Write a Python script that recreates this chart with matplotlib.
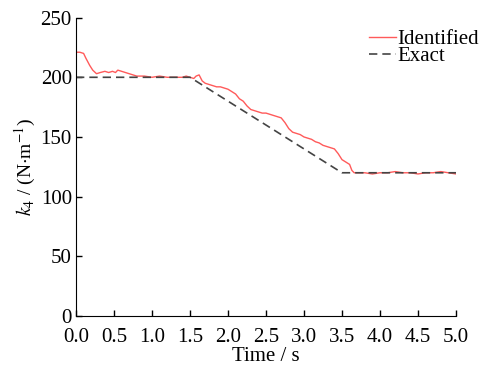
import matplotlib
matplotlib.use('Agg')
import matplotlib.pyplot as plt

# identified stiffness k4
time_id = [0, 0.05, 0.10, 0.13, 0.18, 0.22, 0.27, 0.32, 0.38, 0.43,
           0.48, 0.52, 0.55, 0.6, 0.65, 0.7, 0.75, 0.8, 0.9, 1.0,
           1.1, 1.2, 1.3, 1.4, 1.45, 1.5, 1.55, 1.58, 1.62, 1.66,
           1.7, 1.75, 1.8, 1.85, 1.9, 1.95, 2.0, 2.05, 2.1, 2.15,
           2.2, 2.25, 2.3, 2.35, 2.4, 2.45, 2.5, 2.55, 2.6, 2.65,
           2.7, 2.75, 2.8, 2.85, 2.9, 2.95, 3.0, 3.05, 3.1, 3.15,
           3.2, 3.25, 3.3, 3.35, 3.4, 3.45, 3.5, 3.55, 3.6, 3.63,
           3.66, 3.7, 3.8, 3.9, 4.0, 4.1, 4.2, 4.3, 4.4, 4.5,
           4.6, 4.7, 4.8, 4.9, 5.0]
k4_id = [221, 221, 220, 216, 210, 206, 203, 204, 205, 204,
         205, 204, 206, 205, 204, 203, 202, 201, 201, 200,
         201, 200, 200, 200, 201, 200, 199, 201, 202, 197,
         195, 194, 193, 192, 192, 191, 190, 188, 186, 182,
         180, 176, 173, 172, 171, 170, 170, 169, 168, 167,
         166, 162, 157, 154, 153, 152, 150, 149, 148, 146,
         145, 143, 142, 141, 140, 136, 131, 129, 127, 122,
         120, 120, 120, 119, 120, 120, 121, 120, 120, 119,
         120, 120, 121, 120, 119]

# exact stiffness
time_ex = [0, 1.5, 3.5, 5.0]
k4_ex = [200, 200, 120, 120]

xtick_labels = ['0.0', '0.5', '1.0', '1.5', '2.0', '2.5', '3.0', '3.5', '4.0', '4.5', '5.0']

plt.rcParams['font.family'] = ['Liberation Serif', 'DejaVu Serif']
plt.rcParams['mathtext.fontset'] = 'stix'
plt.rcParams['font.size'] = 15

fig = plt.figure(figsize=(4.81, 3.67), dpi=100)
ax = fig.add_axes([0.158, 0.139, 0.79, 0.813])

ax.plot(time_id, k4_id, color='#ff5a5a', lw=1.0, label='Identified')
ax.plot(time_ex, k4_ex, color='#444444', lw=1.2, dashes=(5, 3), label='Exact')

ax.set_xlim(0, 5)
ax.set_ylim(0, 250)
ax.set_xticks([0, 0.5, 1, 1.5, 2, 2.5, 3, 3.5, 4, 4.5, 5])
ax.set_xticklabels(xtick_labels)
ax.set_yticks([0, 50, 100, 150, 200, 250])
ax.tick_params(direction='in', length=4, width=1)
ax.tick_params(axis='x', pad=9)
ax.tick_params(axis='y', pad=3)
for s in ['top', 'right']:
    ax.spines[s].set_visible(False)

ax.set_xlabel('Time / s', labelpad=0)
ax.set_ylabel(r'$k_4$ / (N$\cdot$m$^{-1}$)', labelpad=2, fontsize=14)

leg = ax.legend(loc='upper right', frameon=False, handlelength=1.3, handletextpad=0.05,
                labelspacing=-0.1, borderpad=0, borderaxespad=0,
                bbox_to_anchor=(0.996, 0.92), bbox_transform=fig.transFigure)

fig.savefig('out.png', dpi=100)
